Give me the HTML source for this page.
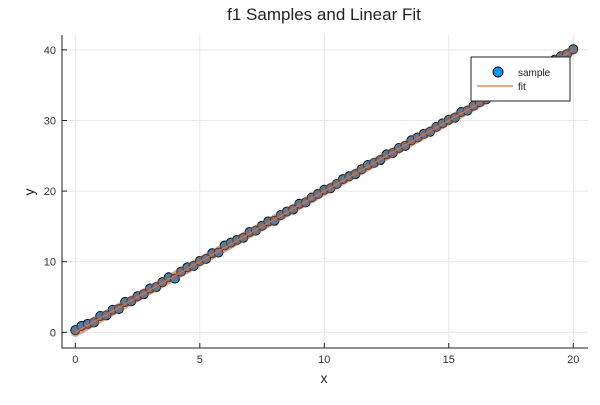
<!DOCTYPE html>
<html><head><meta charset="utf-8"><style>
body{margin:0;background:#fff;font-family:"Liberation Sans","DejaVu Sans",sans-serif}
svg text{font-family:"Liberation Sans","DejaVu Sans",sans-serif}
</style></head><body>
<svg id="chart" width="600" height="400" xmlns="http://www.w3.org/2000/svg">
<rect width="600" height="400" fill="#fff"/>
<text x="324" y="20" font-size="17" text-anchor="middle" fill="#222">f1 Samples and Linear Fit</text>
<g id="grid"></g>
<g id="axes"></g>
<g id="points"></g>
<g id="fit"></g>
<text x="324" y="383" font-size="14" text-anchor="middle" fill="#222">x</text>
<text x="34" y="192" font-size="14" text-anchor="middle" fill="#222" transform="rotate(-90 34 192)">y</text>
<g>
<rect x="471" y="57" width="99" height="44" fill="#fff" stroke="#222" stroke-width="1"/>
<circle cx="498" cy="72" r="5" fill="#009af9" stroke="#000" stroke-width="1"/>
<text x="518" y="76" font-size="10" fill="#222">sample</text>
<line x1="477" y1="86" x2="513" y2="86" stroke="#e26f46" stroke-width="1.2"/>
<text x="518" y="90" font-size="10" fill="#222">fit</text>
</g>
</svg>
<script>
const xTicks=[0,5,10,15,20];
const yTicks=[0,10,20,30,40];
const sampleX=[0,0.25,0.5,0.75,1,1.25,1.5,1.75,2,2.25,2.5,2.75,3,3.25,3.5,3.75,4,4.25,4.5,4.75,5,5.25,5.5,5.75,6,6.25,6.5,6.75,7,7.25,7.5,7.75,8,8.25,8.5,8.75,9,9.25,9.5,9.75,10,10.25,10.5,10.75,11,11.25,11.5,11.75,12,12.25,12.5,12.75,13,13.25,13.5,13.75,14,14.25,14.5,14.75,15,15.25,15.5,15.75,16,16.25,16.5,16.75,17,17.25,17.5,17.75,18,18.25,18.5,18.75,19,19.25,19.5,19.75,20];
const sampleY=[0.3,0.9,1.2,1.4,2.3,2.4,3.2,3.3,4.3,4.4,5.1,5.4,6.2,6.4,7.1,7.8,7.6,8.6,9.2,9.4,10.1,10.4,11.2,11.3,12.3,12.7,13.1,13.4,14.2,14.4,15.1,15.7,15.8,16.6,17.1,17.4,18.2,18.4,19.1,19.6,20.2,20.4,21.0,21.7,22.1,22.4,23.1,23.7,24.0,24.4,25.2,25.4,26.1,26.4,27.2,27.6,28.1,28.4,29.1,29.6,30.1,30.4,31.2,31.4,32.1,32.6,33.0,33.4,34.2,34.4,35.0,35.6,36.1,36.4,37.2,37.4,38.1,38.6,39.1,39.4,40.1];
const fitSlope=2.0, fitIntercept=0.0;
const X0=62,X1=588,Y0=35,Y1=348;
const sx=v=>75.3+v*24.9;
const sy=v=>332.3-v*7.06;
const NS="http://www.w3.org/2000/svg";
function mk(t,a,p){const e=document.createElementNS(NS,t);for(const k in a)e.setAttribute(k,a[k]);p.appendChild(e);return e;}
const grid=document.getElementById('grid'),axes=document.getElementById('axes');
xTicks.forEach(t=>{
 const gl=mk('line',{x1:sx(t),x2:sx(t),y1:Y0,y2:Y1,stroke:'#e6e6e6','stroke-width':1},grid);
 
 
 const tk=mk('line',{x1:sx(t),x2:sx(t),y1:Y1,y2:Y1-5,stroke:'#222'},axes);
 
 
 const tl=mk('text',{x:sx(t),y:Y1+15,'font-size':11,'text-anchor':'middle',fill:'#333'},axes);
 tl.textContent=t;
 
 
});
yTicks.forEach(t=>{
 const gl=mk('line',{x1:X0,x2:X1,y1:sy(t),y2:sy(t),stroke:'#e6e6e6','stroke-width':1},grid);
 
 
 const tk=mk('line',{x1:X0,x2:X0+5,y1:sy(t),y2:sy(t),stroke:'#222'},axes);
 
 
 const tl=mk('text',{x:X0-6,y:sy(t)+4,'font-size':11,'text-anchor':'end',fill:'#333'},axes);
 tl.textContent=t;
 
 
});
const ax=mk('path',{d:`M${X0} ${Y0}V${Y1}H${X1}`,fill:'none',stroke:'#222','stroke-width':1},axes);


const pts=document.getElementById('points');
sampleX.forEach((x,i)=>{
 const c=mk('circle',{cx:sx(x),cy:sy(sampleY[i]),r:4.5,fill:'#009af9',stroke:'#000','stroke-width':1},pts);
 
 
});
const fit=document.getElementById('fit');
const xa=sampleX[0],xb=sampleX[sampleX.length-1];
const band=mk('line',{x1:sx(xa),y1:sy(fitIntercept+fitSlope*xa),x2:sx(xb),y2:sy(fitIntercept+fitSlope*xb),stroke:'#b0603c','stroke-opacity':0.55,'stroke-width':9,'stroke-linecap':'round'},fit);


const fl=mk('line',{x1:sx(xa),y1:sy(fitIntercept+fitSlope*xa),x2:sx(xb),y2:sy(fitIntercept+fitSlope*xb),stroke:'#e26f46','stroke-width':1.2},fit);


</script>
</body></html>
